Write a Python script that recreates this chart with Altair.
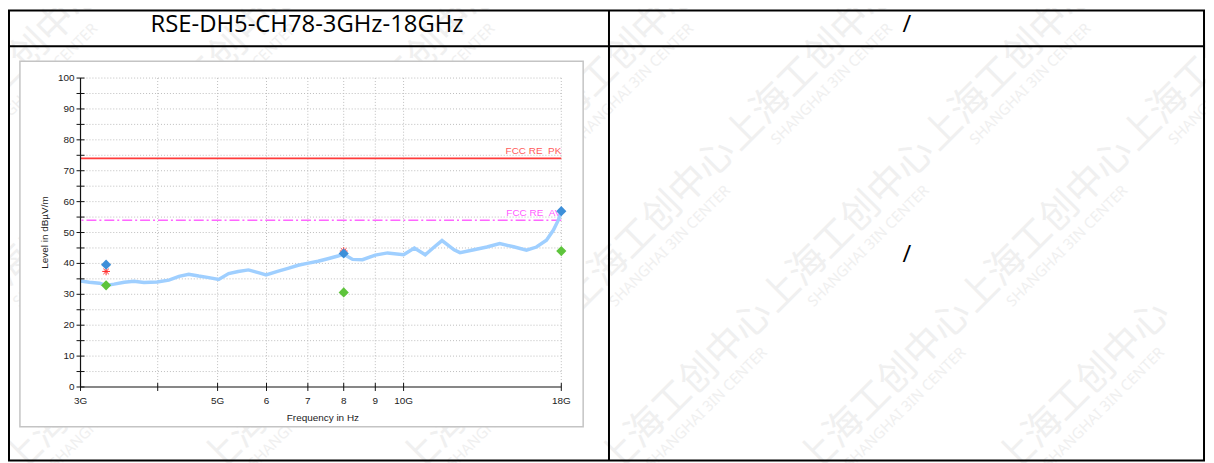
import altair as alt
import pandas as pd

# ---------------- data ----------------
trace_freq = [3.00, 3.10, 3.22, 3.30, 3.40, 3.53, 3.66, 3.80, 3.99, 4.17, 4.33, 4.49,
              4.66, 4.84, 5.02, 5.21, 5.40, 5.61, 5.82, 5.99, 6.27, 6.50, 6.75, 6.98,
              7.27, 7.54, 7.83, 8.00, 8.27, 8.58, 9.00, 9.42, 10.0, 10.41, 10.84, 11.21,
              11.54, 12.07, 12.34, 13.00, 13.64, 14.31, 15.07, 15.81, 16.41, 17.03, 17.48,
              17.80, 18.00]
trace_level = [34.3, 33.9, 33.6, 32.9, 33.3, 33.9, 34.2, 33.8, 34.0, 34.6, 35.8, 36.5,
               35.9, 35.4, 34.8, 36.7, 37.4, 37.9, 37.0, 36.3, 37.5, 38.4, 39.4, 40.0,
               40.7, 41.5, 42.4, 43.0, 41.3, 41.2, 42.7, 43.4, 42.8, 45.0, 42.8, 45.3,
               47.4, 44.4, 43.5, 44.4, 45.3, 46.4, 45.4, 44.3, 45.3, 47.5, 50.8,
               54.0, 56.6]

pk_freq = [3.30, 8.00, 18.00]
pk_level = [39.6, 43.2, 56.9]
av_freq = [3.30, 8.00, 18.00]
av_level = [32.9, 30.6, 44.0]
qp_freq = [3.30, 8.00]
qp_level = [37.4, 44.0]

limit_pk_name = "FCC RE  PK"
limit_pk_level = [74]
limit_av_name = "FCC RE  AV"
limit_av_level = [54]

x_tick_values = [3, 4, 5, 6, 7, 8, 9, 10, 18]
x_tick_labels = ["3G", "", "5G", "6", "7", "8", "9", "10G", "18G"]
y_tick_values = list(range(0, 101, 5))
y_label_values = list(range(0, 101, 10))
y_label_texts = [str(v) for v in y_label_values]
x_title = "Frequency in Hz"
y_title = "Level in dBµV/m"

header_left = "RSE-DH5-CH78-3GHz-18GHz"
header_right = "/"
cell_right = "/"
wm_cn = "上海工创中心"
wm_en = "SHANGHAI 3IN CENTER"

# watermark unit centres (page pixels)
wm_x = [-20, 180, 380, 580, 780, 980, 1180,
        17, 217, 417, 617, 817, 1017, 1217,
        54, 254, 454, 654, 854, 1054,
        91, 291, 491, 691, 891, 1091]
wm_y = [-100, -100, -100, -100, -100, -100, -100,
        63, 63, 63, 63, 63, 63, 63,
        226, 226, 226, 226, 226, 226,
        389, 389, 389, 389, 389, 389]

# ---------------- layout ----------------
W, H = 484, 311          # plot area
OX, OY = 81, 77          # plot origin on the page


def px(x):
    return x - OX


def py(y):
    return y - OY


FONT = "Liberation Sans"
xscale = alt.Scale(type="log", domain=[3, 18], nice=False)
yscale = alt.Scale(domain=[0, 100], nice=False)


def X(f):
    return alt.X(f, scale=xscale, axis=None)


def Y(f):
    return alt.Y(f, scale=yscale, axis=None)


def keep_spaces(s):
    # SVG collapses runs of spaces; keep the double space visible
    return s.replace("  ", " \u00a0")


one = pd.DataFrame({"k": [0]})


def text_at(x, y, text, **kw):
    return alt.Chart(one).mark_text(text=text, **kw).encode(
        x=alt.value(px(x)), y=alt.value(py(y)))


# watermark
wm_layers = []
for wx, wy in zip(wm_x, wm_y):
    wm_layers.append(text_at(wx, wy, wm_cn, angle=315, fontSize=38,
                             font="Noto Sans CJK SC", color="#f0f0f0"))
    wm_layers.append(text_at(wx + 20, wy + 20, wm_en, angle=315, fontSize=15,
                             font="Noto Sans", color="#f0f0f0"))

# table
table_box = alt.Chart(one).mark_rect(fillOpacity=0, stroke="black", strokeWidth=2).encode(
    x=alt.value(px(9)), x2=alt.value(px(1212)), y=alt.value(py(9)), y2=alt.value(py(462)))
header_line = alt.Chart(one).mark_rule(color="black", strokeWidth=2).encode(
    x=alt.value(px(9)), x2=alt.value(px(1212)), y=alt.value(py(45)))
divider = alt.Chart(one).mark_rule(color="black", strokeWidth=2).encode(
    x=alt.value(px(613)), y=alt.value(py(9)), y2=alt.value(py(462)))

tstyle = dict(font="Open Sans", fontSize=24, color="black", baseline="middle", align="center")
t1 = text_at(309, 24, header_left, **tstyle)
t2 = text_at(913, 24, header_right, **tstyle)
t3 = text_at(913, 255, cell_right, **tstyle)

# chart picture frame
frame = alt.Chart(one).mark_rect(fill="white", stroke="#c4c4c4", strokeWidth=1.5).encode(
    x=alt.value(px(20)), x2=alt.value(px(587)), y=alt.value(py(60)), y2=alt.value(py(428)))

# grid
ygrid = alt.Chart(pd.DataFrame({"v": y_tick_values[1:]})).mark_rule(
    color="#bdbdbd", strokeDash=[1, 2], strokeWidth=1).encode(y=Y("v:Q"))
xgrid = alt.Chart(pd.DataFrame({"v": x_tick_values[1:]})).mark_rule(
    color="#bdbdbd", strokeDash=[1, 2], strokeWidth=1).encode(x=X("v:Q"))

# axes drawn as marks
x_dom = alt.Chart(one).mark_rule(color="#111", strokeWidth=1.2).encode(
    x=alt.value(0), x2=alt.value(W), y=alt.value(H))
y_dom = alt.Chart(one).mark_rule(color="#111", strokeWidth=1.2).encode(
    x=alt.value(0), y=alt.value(0), y2=alt.value(H))
y_ticks = alt.Chart(pd.DataFrame({"v": y_tick_values})).mark_rule(color="#111").encode(
    y=Y("v:Q"), x=alt.value(-4), x2=alt.value(4))
x_ticks = alt.Chart(pd.DataFrame({"v": x_tick_values})).mark_rule(color="#111").encode(
    x=X("v:Q"), y=alt.value(H - 4), y2=alt.value(H + 4))
x_labels = alt.Chart(pd.DataFrame({"v": x_tick_values, "t": x_tick_labels})).mark_text(
    font=FONT, fontSize=10, color="#222", baseline="middle", align="center").encode(
    x=X("v:Q"), y=alt.value(H + 14), text="t:N")
y_labels = alt.Chart(pd.DataFrame({"v": y_label_values, "t": y_label_texts})).mark_text(
    font=FONT, fontSize=10, color="#222", baseline="middle", align="right").encode(
    y=Y("v:Q"), x=alt.value(-6), text="t:N")
x_tit = alt.Chart(one).mark_text(text=x_title, font=FONT, fontSize=10, color="#222",
                                 baseline="middle", align="center").encode(
    x=alt.value(W / 2 + 2), y=alt.value(H + 31))
y_tit = alt.Chart(one).mark_text(text=y_title, font=FONT, fontSize=10, color="#222",
                                 baseline="middle", align="center", angle=270).encode(
    x=alt.value(-36), y=alt.value(H / 2))

# limits
pk_df = pd.DataFrame({"l": limit_pk_level, "n": [keep_spaces(limit_pk_name)]})
av_df = pd.DataFrame({"l": limit_av_level, "n": [keep_spaces(limit_av_name)]})
pk_line = alt.Chart(pk_df).mark_rule(color="#ff3b3b", strokeWidth=2).encode(y=Y("l:Q"))
av_line = alt.Chart(av_df).mark_rule(color="#ff66ff", strokeWidth=1.5,
                                     strokeDash=[10, 3, 2, 3]).encode(y=Y("l:Q"))
pk_lab = alt.Chart(pk_df).mark_text(align="right", baseline="bottom", dy=-2, font=FONT,
                                    fontSize=10, color="#ff5a5a").encode(
    x=alt.value(W), y=Y("l:Q"), text="n:N")
av_lab = alt.Chart(av_df).mark_text(align="right", baseline="bottom", dy=-2, font=FONT,
                                    fontSize=10, color="#ff5aff").encode(
    x=alt.value(W), y=Y("l:Q"), text="n:N")

# trace
trace_df = pd.DataFrame({"f": trace_freq, "l": trace_level})
trace = alt.Chart(trace_df).mark_line(color="#9fcfff", strokeWidth=3.5).encode(
    x=X("f:Q"), y=Y("l:Q"))

star_path = "M-1,0L1,0M0,-1L0,1M-0.7,-0.7L0.7,0.7M-0.7,0.7L0.7,-0.7"
qp = alt.Chart(pd.DataFrame({"f": qp_freq, "l": qp_level})).mark_point(
    shape=star_path, filled=False, color="#ff2a2a", strokeWidth=1, size=60, opacity=1).encode(
    x=X("f:Q"), y=Y("l:Q"))
av = alt.Chart(pd.DataFrame({"f": av_freq, "l": av_level})).mark_point(
    shape="diamond", filled=True, color="#5ec43c", size=105, opacity=1).encode(
    x=X("f:Q"), y=Y("l:Q"))
pk = alt.Chart(pd.DataFrame({"f": pk_freq, "l": pk_level})).mark_point(
    shape="diamond", filled=True, color="#3d8fd9", size=105, opacity=1).encode(
    x=X("f:Q"), y=Y("l:Q"))

chart = alt.layer(
    *wm_layers, table_box, header_line, divider, t1, t2, t3, frame,
    ygrid, xgrid, pk_line, av_line, pk_lab, av_lab, trace,
    x_dom, y_dom, y_ticks, x_ticks, x_labels, y_labels, x_tit, y_tit,
    qp, av, pk
).properties(
    width=W, height=H,
    padding={"left": OX - 8, "top": OY - 8, "right": 1206 - (OX - 8) - W,
             "bottom": 455 - (OY - 8) - H},
    autosize=alt.AutoSizeParams(type="none"),
    background="white",
).configure_view(strokeWidth=0)

chart.save("out.html", embed_options={"renderer": "svg", "actions": False})
